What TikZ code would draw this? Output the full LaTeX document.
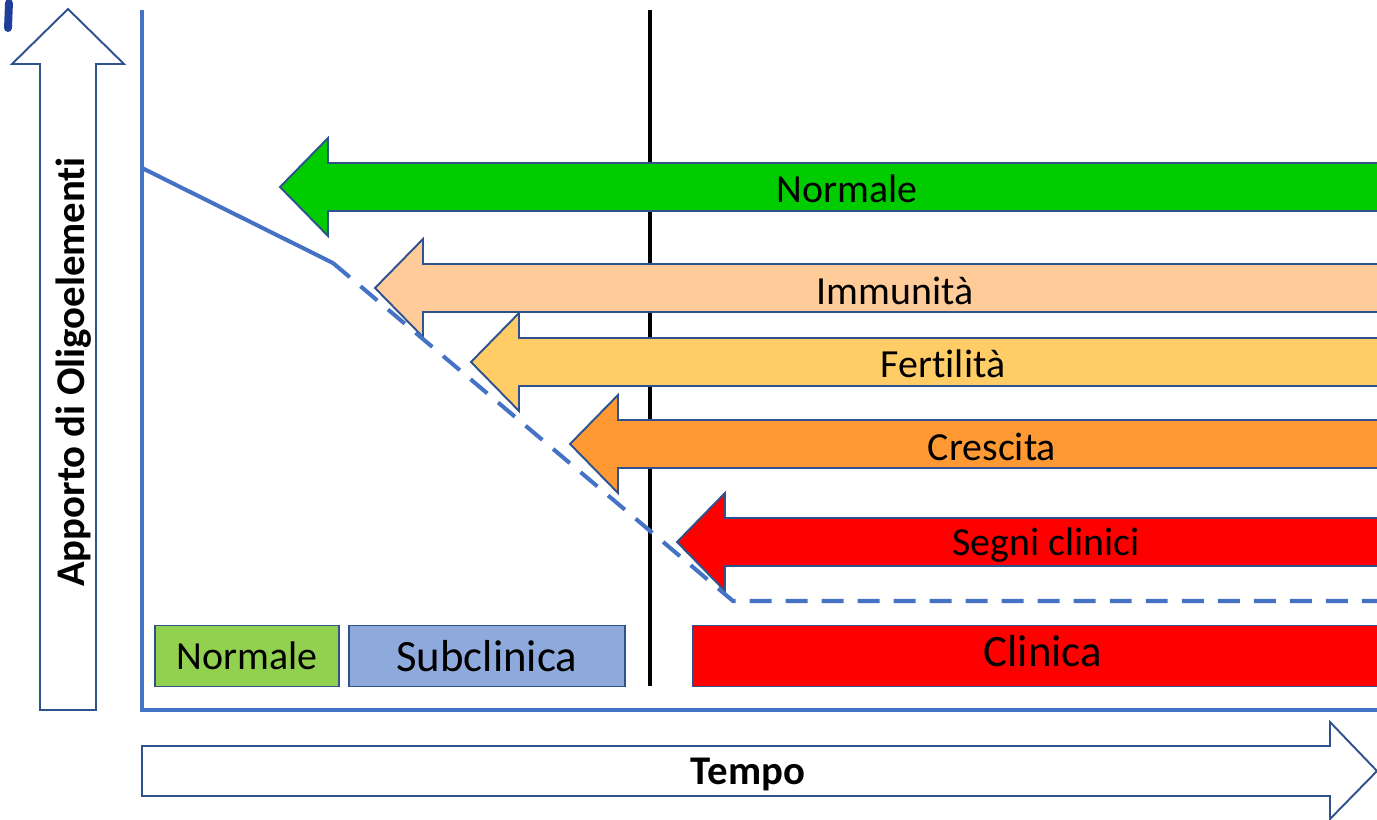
\documentclass[tikz,border=0pt]{standalone}
\usepackage{fontspec}
\setmainfont{Carlito}[Ligatures={NoCommon}]
\usetikzlibrary{positioning}
\definecolor{axisblue}{HTML}{4472C4}
\definecolor{edgeblue}{HTML}{2F528F}
\definecolor{inkblue}{HTML}{1F3E9C}
\definecolor{okgreen}{HTML}{00CC00}
\definecolor{peach}{HTML}{FFCC99}
\definecolor{sand}{HTML}{FFCC66}
\definecolor{amber}{HTML}{FF9933}
\definecolor{alarm}{HTML}{FF0000}
\definecolor{leaf}{HTML}{92D050}
\definecolor{sky}{HTML}{8EA9DB}
\tikzset{
  axisline/.style={line width=2.3pt, axisblue},
  blockarrow/.style={draw=edgeblue, line width=1.1pt, line join=miter},
  hollow/.style={draw=edgeblue, line width=1.1pt, fill=white, line join=miter},
  phasebox/.style={draw=edgeblue, line width=1.1pt, minimum height=1.22cm, inner sep=0pt, font=\fontsize{25.5}{28}\selectfont},
  barlabel/.style={font=\fontsize{22.7}{26}\selectfont, inner sep=0pt},
  axislabel/.style={font=\fontsize{23.2}{26}\selectfont\bfseries, inner sep=0pt}
}

\begin{document}
\begin{tikzpicture}[x=0.02cm, y=-0.02cm]
  \useasboundingbox (0,0) rectangle (1377,819);
  \clip (0,0) rectangle (1377,819);
  % stray pen mark
  \draw[inkblue, line width=4.5pt, line cap=round] (9,3) -- (8,28);
  % axis arrows
  \draw[hollow] (40,710) -- (40,64) -- (12,64) -- (68,9) -- (124,64) -- (96,64) -- (96,710) -- cycle;
  \node[axislabel, rotate=90] (apporto) at (74,372) {Apporto di Oligoelementi};
  \draw[hollow] (142,746) -- (1330,746) -- (1330,722) -- (1377,771) -- (1330,819) -- (1330,796) -- (142,796) -- cycle;
  \node[axislabel] (tempo) at (748,774) {Tempo};
  % axes and threshold
  \draw[axisline] (142,10) -- (142,710) -- (1385,710);
  \draw[black, line width=2.4pt] (650,10) -- (650,686);
  % functions lost one after the other
  \foreach \tipx/\cy/\col/\txt/\tx/\ty [count=\i] in {280/187/okgreen/Normale/847/189, 375/288/peach/Immunità/895/291, 471/362/sand/Fertilità/943/364, 570/444/amber/Crescita/992/447, 677/542/alarm/Segni clinici/1046/545}
  {
    \draw[blockarrow, fill=\col] (1385,{\cy-24}) -- ({\tipx+48},{\cy-24}) -- ({\tipx+48},{\cy-49}) -- (\tipx,\cy) -- ({\tipx+48},{\cy+49}) -- ({\tipx+48},{\cy+24}) -- (1385,{\cy+24});
    \node[barlabel] (bar\i) at (\tx,\ty) {\txt};
  }
  % supply curve
  \draw[axisline] (142,168) -- (333,263);
  \draw[axisline, dash pattern=on 12.5pt off 8pt] (333,263) -- (733,601) -- (1385,601);
  % phases
  \node[phasebox, fill=leaf, minimum width=3.68cm, font=\fontsize{22.7}{26}\selectfont] (normbox) at (247,656) {Normale};
  \node[phasebox, fill=sky, minimum width=5.52cm, right=0.16cm of normbox] (subbox) {Subclinica};
  \node[phasebox, fill=alarm, minimum width=14cm, anchor=west] (clinbox) at (692,656) {\raisebox{6pt}{Clinica}\hspace{0.2cm}};
\end{tikzpicture}
\end{document}
